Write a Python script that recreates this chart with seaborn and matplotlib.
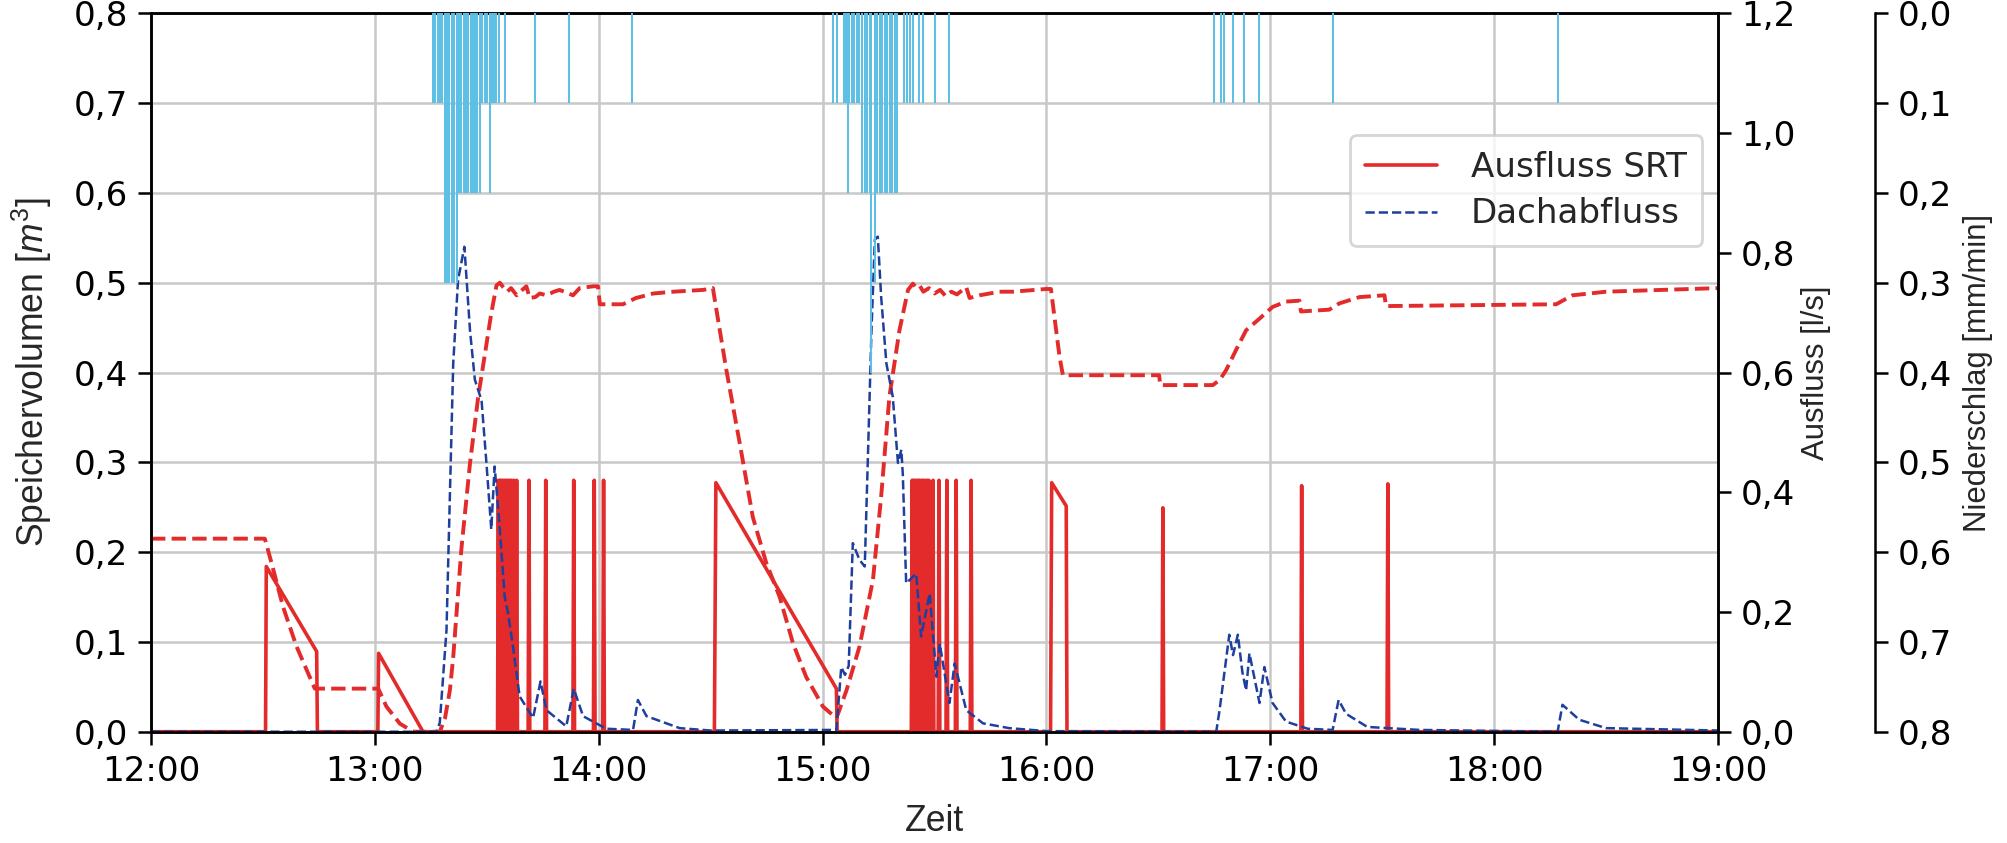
import matplotlib
matplotlib.use("Agg")
import matplotlib.pyplot as plt
from matplotlib.ticker import FuncFormatter, MultipleLocator
import seaborn as sns
import pandas as pd

# ---------------- data (time in minutes after 12:00) ----------------
hour_ticks = [0, 60, 120, 180, 240, 300, 360, 420]
hour_labels = ["12:00", "13:00", "14:00", "15:00", "16:00", "17:00", "18:00", "19:00"]

# Speichervolumen [m3] (left axis)
vol_t = [0, 30.5, 32.3, 35.4, 39.0, 41.7, 43.9, 60.9, 63.1, 66.7, 70.3, 77.4, 78.8, 80.1, 81.0,
         83.2, 85.5, 87.7, 89.4, 91.2, 92.6, 93.5, 94.4, 95.5, 96.5, 98.0, 99.5, 100.6, 101.5,
         103.0, 104.2, 106.0, 108.0, 109.5, 113.1, 114.9, 118.5, 119.8, 120.3, 126.5, 130.0,
         134.6, 140.0, 148.0, 150.6, 151.1, 154.2, 157.8, 161.3, 164.9, 168.5, 172.1, 175.6,
         180.1, 183.7, 186.4, 189.9, 193.5, 195.7, 197.9, 200.6, 202.9, 204.2, 205.0, 206.0,
         207.0, 208.5, 210.0, 211.5, 213.0, 214.5, 216.0, 218.5, 219.4, 222.1, 227.4, 231.0,
         239.9, 241.2, 242.6, 243.5, 244.4, 270.2, 270.5, 284.6, 286.5, 288.2, 290.8, 293.5,
         297.1, 300.6, 304.2, 307.8, 308.2, 315.8, 318.5, 323.9, 330.6, 331.0, 376.6, 381.0,
         390.0, 420.0]
vol_m3 = [0.215, 0.215, 0.188, 0.139, 0.095, 0.069, 0.048, 0.048, 0.028, 0.009, 0.0, 0.0, 0.015,
          0.046, 0.083, 0.204, 0.299, 0.373, 0.418, 0.466, 0.497, 0.500, 0.495, 0.490, 0.494,
          0.486, 0.492, 0.496, 0.483, 0.484, 0.488, 0.486, 0.490, 0.492, 0.486, 0.494, 0.496,
          0.496, 0.476, 0.476, 0.483, 0.488, 0.490, 0.492, 0.494, 0.481, 0.403, 0.321, 0.239,
          0.188, 0.150, 0.098, 0.061, 0.028, 0.015, 0.046, 0.095, 0.169, 0.262, 0.373, 0.447,
          0.492, 0.499, 0.495, 0.497, 0.490, 0.494, 0.488, 0.492, 0.485, 0.490, 0.487, 0.495,
          0.483, 0.486, 0.490, 0.490, 0.493, 0.493, 0.447, 0.418, 0.397, 0.397, 0.386, 0.386,
          0.392, 0.403, 0.425, 0.447, 0.460, 0.473, 0.479, 0.480, 0.468, 0.470, 0.477, 0.484,
          0.486, 0.474, 0.476, 0.486, 0.490, 0.494]

# Dachabfluss [l/s] (right axis)
dach_t = [0, 76.5, 77.4, 79.2, 80.1, 81.0, 82.3, 84.0, 85.5, 86.8, 88.6, 89.9, 91.2, 92.1, 93.5,
          94.8, 95.7, 97.0, 98.8, 102.4, 104.4, 106.0, 111.3, 113.3, 115.8, 122.0, 129.2, 130.5,
          132.8, 141.7, 150.0, 183.7, 185.0, 186.0, 187.0, 188.1, 189.9, 191.3, 192.1, 193.1,
          194.0, 194.8, 195.7, 197.1, 198.8, 200.2, 201.1, 201.5, 202.4, 205.1, 206.4, 208.7,
          210.5, 211.4, 214.0, 215.4, 218.5, 223.0, 230.0, 240.0, 285.5, 286.4, 289.0, 290.0,
          291.3, 292.5, 293.5, 294.4, 297.1, 298.4, 300.6, 304.2, 310.0, 316.7, 318.3, 320.3,
          322.1, 326.0, 340.0, 377.0, 378.3, 382.8, 390.0, 420.0]
dach_q = [0.0, 0.0, 0.015, 0.170, 0.393, 0.615, 0.755, 0.810, 0.670, 0.588, 0.553, 0.449, 0.338,
          0.443, 0.338, 0.225, 0.198, 0.143, 0.059, 0.023, 0.084, 0.036, 0.009, 0.072, 0.026,
          0.005, 0.003, 0.053, 0.026, 0.006, 0.002, 0.003, 0.108, 0.095, 0.110, 0.315, 0.287,
          0.276, 0.449, 0.670, 0.822, 0.827, 0.726, 0.615, 0.560, 0.449, 0.471, 0.430, 0.248,
          0.264, 0.159, 0.231, 0.092, 0.147, 0.048, 0.114, 0.036, 0.014, 0.006, 0.001, 0.0,
          0.036, 0.162, 0.128, 0.162, 0.100, 0.069, 0.131, 0.048, 0.108, 0.048, 0.017, 0.005,
          0.003, 0.053, 0.030, 0.023, 0.008, 0.003, 0.0, 0.045, 0.020, 0.006, 0.002]

# Ausfluss SRT [l/s]: ramp sections and short spikes
srt_ramp_t = [0.0, 30.7, 30.9, 44.4, 44.6, 60.8, 61.0, 72.9, 151.0, 151.4, 183.7, 183.9,
              241.1, 241.4, 245.3, 245.5, 420.0]
srt_ramp_q = [0.0, 0.0, 0.276, 0.134, 0.0, 0.0, 0.131, 0.0, 0.0, 0.416, 0.072, 0.0,
              0.0, 0.416, 0.377, 0.0, 0.0]
srt_spike_t = [93.1, 93.5, 93.9, 94.3, 94.8, 95.2, 95.7, 96.1, 96.6, 97.2, 98.0, 101.3, 105.8,
               113.3, 118.8, 121.3, 204.0, 204.4, 204.8, 205.3, 205.7, 206.1, 206.6, 207.0,
               207.5, 208.0, 208.5, 209.6, 211.2, 213.3, 215.8, 219.8, 271.2, 308.4, 331.5]
srt_spike_q = [0.42, 0.42, 0.42, 0.42, 0.42, 0.42, 0.42, 0.42, 0.42, 0.42, 0.42, 0.42, 0.42,
               0.42, 0.42, 0.42, 0.42, 0.42, 0.42, 0.42, 0.42, 0.42, 0.42, 0.42,
               0.42, 0.42, 0.42, 0.42, 0.42, 0.42, 0.42, 0.42, 0.374, 0.411, 0.414]

# Niederschlag [mm/min] (third axis, inverted)
rain_t = [75.6, 76.2, 76.8, 77.5, 78.1, 78.7, 79.4, 80.0, 80.6, 81.3, 81.9, 82.5, 83.1, 83.8,
          84.4, 85.0, 85.7, 86.3, 86.9, 87.5, 88.2, 88.8, 89.4, 90.1, 90.9, 91.5, 92.0, 92.6,
          93.2, 95.0, 102.9, 112.0, 128.9,
          182.8, 183.9, 185.7, 186.4, 186.8, 187.2, 187.8, 188.5, 189.2, 189.8, 190.5, 191.3,
          191.9, 192.6, 193.1, 194.0, 194.6, 195.3, 195.9, 196.6, 197.3, 198.0, 198.7, 199.3,
          200.0, 201.8, 202.6, 203.5, 204.1, 205.8, 206.9, 210.0, 214.0,
          284.8, 286.8, 287.7, 289.9, 292.9, 296.9, 316.9, 377.0]
rain_mm = [0.1, 0.1, 0.1, 0.1, 0.1, 0.3, 0.3, 0.3, 0.3, 0.3, 0.3, 0.2, 0.2, 0.2,
           0.2, 0.2, 0.2, 0.2, 0.2, 0.2, 0.2, 0.1, 0.1, 0.1, 0.2, 0.1, 0.1, 0.1,
           0.1, 0.1, 0.1, 0.1, 0.1,
           0.1, 0.1, 0.1, 0.1, 0.2, 0.1, 0.1, 0.1, 0.1, 0.1, 0.2, 0.2,
           0.2, 0.2, 0.4, 0.3, 0.2, 0.2, 0.2, 0.2, 0.2, 0.2, 0.2, 0.2,
           0.2, 0.1, 0.1, 0.1, 0.1, 0.1, 0.1, 0.1, 0.1,
           0.1, 0.1, 0.1, 0.1, 0.1, 0.1, 0.1, 0.1]

# ---------------- build series ----------------
pts = list(zip(srt_ramp_t, srt_ramp_q))
for t, q in zip(srt_spike_t, srt_spike_q):
    pts += [(t - 0.22, 0.0), (t, q), (t + 0.22, 0.0)]
pts.sort(key=lambda p: p[0])
srt_df = pd.DataFrame(pts, columns=["t", "q"])
vol_df = pd.DataFrame({"t": vol_t, "v": vol_m3})
dach_df = pd.DataFrame({"t": dach_t, "q": dach_q})

# ---------------- style ----------------
sns.set_theme(style="ticks")
plt.rcParams["font.family"] = ["DejaVu Sans"]
plt.rcParams["mathtext.fontset"] = "custom"
plt.rcParams["mathtext.rm"] = "Liberation Sans"
plt.rcParams["mathtext.it"] = "Liberation Sans:italic"
plt.rcParams["axes.edgecolor"] = "black"
plt.rcParams["axes.linewidth"] = 0.9
TICK_FS = 12.3
for k in ["xtick", "ytick"]:
    plt.rcParams[k + ".major.size"] = 4.8
    plt.rcParams[k + ".major.width"] = 0.9
    plt.rcParams[k + ".color"] = "black"
    plt.rcParams[k + ".labelsize"] = TICK_FS
LEFT_FONT = dict(family=["Liberation Sans", "DejaVu Sans"], size=12.8)
RIGHT_FONT = dict(family=["Liberation Sans", "DejaVu Sans"], size=11.2)

RED = "#e32b2b"
BLUE = "#1f3f9e"
RAIN = "#5bbfe6"

fig = plt.figure(figsize=(10.04, 4.215), dpi=200)
ax = fig.add_axes([0.0752, 0.132, 0.7804, 0.8522])
ax2 = ax.twinx()
ax3 = ax.twinx()

comma = FuncFormatter(lambda v, p: f"{v:.1f}".replace(".", ","))

# left axis: storage volume
sns.lineplot(data=vol_df, x="t", y="v", ax=ax, color=RED, lw=1.4, linestyle="--",
             sort=False, estimator=None, legend=False)
ax.set_xlim(0, 420)
ax.set_ylim(0, 0.8)
ax.yaxis.set_major_locator(MultipleLocator(0.1))
ax.yaxis.set_major_formatter(comma)
ax.set_xticks(hour_ticks)
ax.set_xticklabels(hour_labels)
ax.grid(True, color="#c8c8c8", lw=0.9)
ax.set_axisbelow(True)
ax.set_xlabel("Zeit", fontdict=LEFT_FONT, labelpad=6)
ax.set_ylabel(r"Speichervolumen [$m^3$]", fontdict=LEFT_FONT, labelpad=7)

# right axis: outflow
sns.lineplot(data=srt_df, x="t", y="q", ax=ax2, color=RED, lw=1.3,
             sort=False, estimator=None, legend=False, label="Ausfluss SRT")
sns.lineplot(data=dach_df, x="t", y="q", ax=ax2, color=BLUE, lw=0.9, linestyle="--",
             sort=False, estimator=None, legend=False, label="Dachabfluss")
ax2.set_ylim(0, 1.2)
ax2.yaxis.set_major_locator(MultipleLocator(0.2))
ax2.yaxis.set_major_formatter(comma)
ax2.set_ylabel("Ausfluss [l/s]", fontdict=RIGHT_FONT, labelpad=2)
ax2.grid(False)

# third axis: rain
ax3.vlines(rain_t, 0, rain_mm, color=RAIN, lw=0.7)
ax3.set_ylim(0.8, 0)
ax3.yaxis.set_major_locator(MultipleLocator(0.1))
ax3.yaxis.set_major_formatter(comma)
ax3.spines["right"].set_position(("axes", 1.10))
for s in ["left", "top", "bottom"]:
    ax3.spines[s].set_visible(False)
ax3.set_ylabel("Niederschlag [mm/min]", fontdict=RIGHT_FONT, labelpad=4)
ax3.grid(False)

for a in (ax, ax2, ax3):
    a.set_xlim(0, 420)

handles, labels = ax2.get_legend_handles_labels()
leg = ax3.legend(handles, labels, loc="upper right", bbox_to_anchor=(0.99, 0.83),
                 borderaxespad=0.0, fontsize=TICK_FS, frameon=True, fancybox=True,
                 handlelength=2.1, handletextpad=1.0, borderpad=0.45, labelspacing=0.4)
leg.get_frame().set_edgecolor("#cccccc")
leg.get_frame().set_linewidth(1.0)

fig.savefig("out.png", dpi=200)
